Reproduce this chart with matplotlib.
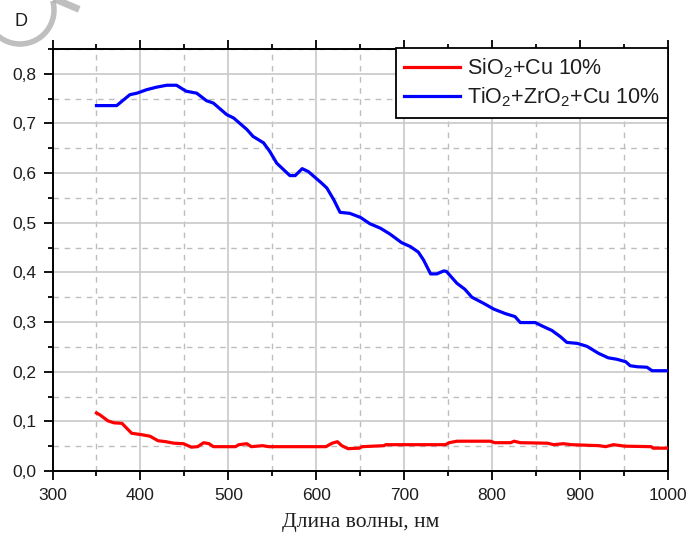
import matplotlib
matplotlib.use("Agg")
import matplotlib.pyplot as plt
from matplotlib.ticker import MultipleLocator, FuncFormatter
from matplotlib.patches import Arc
from matplotlib.lines import Line2D

# Data
wl_blue = [350, 373, 388, 396, 407, 418, 430, 441, 452, 464, 475, 483, 498, 506, 521, 528,
           540, 547, 555, 570, 576, 584, 591, 606, 612, 620, 627, 638, 650, 661, 673, 684,
           697, 707, 716, 722, 730, 737, 745, 748, 760, 769, 777, 790, 802, 815, 826, 832,
           849, 857, 868, 878, 885, 897, 908, 921, 932, 942, 952, 957, 965, 976, 982, 1000]
d_blue = [0.736, 0.736, 0.758, 0.761, 0.768, 0.773, 0.777, 0.777, 0.765, 0.761, 0.746, 0.741,
          0.718, 0.711, 0.688, 0.674, 0.661, 0.644, 0.620, 0.595, 0.595, 0.609, 0.603, 0.580,
          0.570, 0.546, 0.521, 0.519, 0.511, 0.498, 0.489, 0.477, 0.460, 0.452, 0.441, 0.425,
          0.397, 0.397, 0.403, 0.402, 0.378, 0.366, 0.350, 0.338, 0.326, 0.317, 0.311, 0.299,
          0.299, 0.292, 0.283, 0.270, 0.259, 0.257, 0.251, 0.237, 0.228, 0.225, 0.220, 0.212,
          0.210, 0.209, 0.202, 0.202]

wl_red = [350, 354, 363, 370, 379, 390, 402, 411, 420, 429, 438, 449, 458, 465, 472, 478,
          483, 508, 512, 521, 526, 539, 546, 611, 618, 624, 629, 636, 649, 652, 677, 679,
          747, 751, 760, 798, 803, 821, 825, 832, 863, 870, 881, 890, 922, 929, 938, 951,
          981, 983, 1000]
d_red = [0.117, 0.113, 0.101, 0.097, 0.096, 0.076, 0.073, 0.070, 0.061, 0.059, 0.056, 0.055,
         0.048, 0.049, 0.057, 0.055, 0.049, 0.049, 0.053, 0.055, 0.049, 0.051, 0.049, 0.049,
         0.056, 0.059, 0.051, 0.045, 0.046, 0.049, 0.051, 0.053, 0.053, 0.057, 0.060, 0.060,
         0.057, 0.057, 0.060, 0.057, 0.056, 0.053, 0.055, 0.053, 0.051, 0.049, 0.053, 0.050,
         0.049, 0.046, 0.046]

labels = [r"SiO$_2$+Cu 10%", r"TiO$_2$+ZrO$_2$+Cu 10%"]
xlabel = "Длина волны, нм"
ylabel = "D"

plt.rcParams['font.family'] = ['Liberation Sans', 'DejaVu Sans']
plt.rcParams['mathtext.fontset'] = 'custom'
plt.rcParams['mathtext.rm'] = 'Liberation Sans'

TXT = "#1e1e1e"
W, H = 688, 533
fig = plt.figure(figsize=(W / 100, H / 100), dpi=100)
ax = fig.add_axes([52.5 / W, 1 - 471 / H, (668 - 52.5) / W, (471 - 49) / H])

ax.plot(wl_red, d_red, color="#ff0000", lw=2.3, label=labels[0], zorder=3)
ax.plot(wl_blue, d_blue, color="#0000ff", lw=2.3, label=labels[1], zorder=3)

ax.set_xlim(300, 1000)
ax.set_ylim(0, 0.85)
ax.xaxis.set_major_locator(MultipleLocator(100))
ax.xaxis.set_minor_locator(MultipleLocator(50))
ax.yaxis.set_major_locator(MultipleLocator(0.1))
ax.yaxis.set_minor_locator(MultipleLocator(0.05))
ax.yaxis.set_major_formatter(FuncFormatter(lambda v, p: f"{v:.1f}".replace(".", ",")))

ax.grid(which="major", color="#c8c8c8", lw=1.2, ls="-", zorder=0)
ax.grid(which="minor", color="#bdbdbd", lw=1.0, ls=(0, (4, 4)), zorder=0)

ax.tick_params(which="major", direction="out", length=6.5, width=1.3, colors="black",
               top=True, right=False, labelsize=12.5, labelcolor=TXT, pad=5)
ax.tick_params(which="minor", direction="out", length=3.8, width=1.3, colors="black",
               top=True, right=False)
ax.tick_params(axis="x", which="major", pad=6)
for s in ax.spines.values():
    s.set_linewidth(1.4)
    s.set_color("black")

ax.set_xlabel(xlabel, family=["Liberation Serif", "DejaVu Serif"], fontsize=15.5,
              color=TXT, labelpad=7)
fig.text(21 / W, 1 - 21 / H, ylabel, fontsize=13, ha="center", va="center", color=TXT)

leg = ax.legend(loc="upper right", bbox_to_anchor=(1.0, 1.003), fontsize=15.5, frameon=True,
                fancybox=False, edgecolor="black", framealpha=1, borderaxespad=0.0,
                handlelength=2.6, handletextpad=0.3, borderpad=0.4, labelspacing=0.25)
leg.get_frame().set_linewidth(1.3)
for t in leg.get_texts():
    t.set_color(TXT)

# faint watermark arcs in top-left corner
arc = Arc((20 / W, 1 - 10 / H), 68 / W, 68 / H, theta1=160, theta2=380,
          transform=fig.transFigure, color="#b0b0b0", lw=4, alpha=0.8)
fig.add_artist(arc)
fig.add_artist(Line2D([57 / W, 76 / W], [1.0, 1 - 8 / H], transform=fig.transFigure,
                      color="#b0b0b0", lw=5, alpha=0.8))

fig.savefig("out.png", dpi=100)
